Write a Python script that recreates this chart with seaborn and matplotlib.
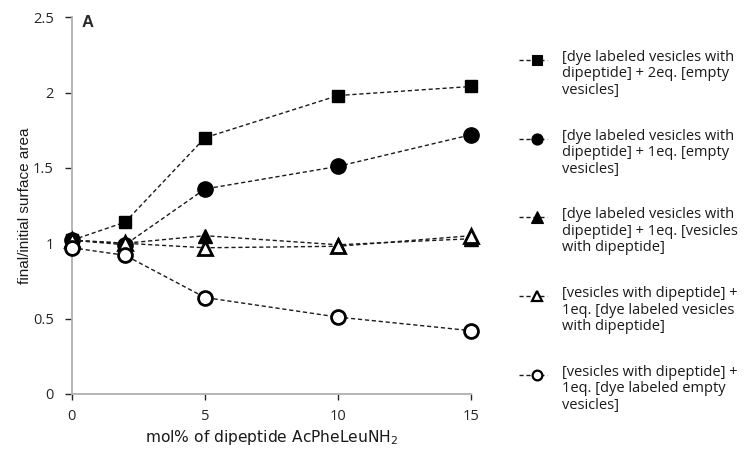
import matplotlib
matplotlib.use("Agg")
import matplotlib.pyplot as plt
from matplotlib.lines import Line2D
import seaborn as sns
import pandas as pd

# mol% of dipeptide in the vesicles
mol_pct = [0, 2, 5, 10, 15]

# final/initial surface area for each mixing experiment
sq_filled = [1.02, 1.14, 1.70, 1.98, 2.04]
circ_filled = [1.02, 0.99, 1.36, 1.51, 1.72]
tri_filled = [1.02, 1.00, 1.05, 0.99, 1.03]
tri_open = [1.02, 1.00, 0.97, 0.98, 1.05]
circ_open = [0.97, 0.92, 0.64, 0.51, 0.42]

labels = [
    "[dye labeled vesicles with\ndipeptide] + 2eq. [empty\nvesicles]",
    "[dye labeled vesicles with\ndipeptide] + 1eq. [empty\nvesicles]",
    "[dye labeled vesicles with\ndipeptide] + 1eq. [vesicles\nwith dipeptide]",
    "[vesicles with dipeptide] +\n1eq. [dye labeled vesicles\nwith dipeptide]",
    "[vesicles with dipeptide] +\n1eq. [dye labeled empty\nvesicles]",
]

series = [sq_filled, circ_filled, tri_filled, tri_open, circ_open]
styles = [
    dict(marker="s", ms=9, mfc="black", mew=1.0, lms=7.0),
    dict(marker="o", ms=11, mfc="black", mew=1.0, lms=8.0),
    dict(marker="^", ms=10.5, mfc="black", mew=1.0, lms=8.0),
    dict(marker="^", ms=9.5, mfc="white", mew=2.0, lms=7.0),
    dict(marker="o", ms=10, mfc="white", mew=2.0, lms=7.0),
]

sns.set_style("white")
plt.rcParams["font.family"] = ["Open Sans", "DejaVu Sans"]

fig = plt.figure(figsize=(7.49, 4.51), dpi=100)
ax = fig.add_axes([0.096, 0.1264, 0.533, 0.8356])

for vals, st in zip(series, styles):
    df = pd.DataFrame({"x": mol_pct, "y": vals})
    sns.lineplot(data=df, x="x", y="y", ax=ax, color="#1a1a1a",
                 linestyle=(0, (3, 2)), linewidth=1.0,
                 marker=st["marker"], markersize=st["ms"],
                 markerfacecolor=st["mfc"], markeredgecolor="black",
                 markeredgewidth=st["mew"], clip_on=False, zorder=3)

ax.set_xlim(0, 15)
ax.set_ylim(0, 2.5)
ax.set_xticks([0, 5, 10, 15])
ax.set_yticks([0, 0.5, 1, 1.5, 2, 2.5])
ax.set_yticklabels(["0", "0.5", "1", "1.5", "2", "2.5"])
ax.tick_params(axis="both", labelsize=10.5, colors="#262626", length=5,
               width=1, direction="out", left=True, bottom=True)
ax.tick_params(axis="y", pad=8)
ax.tick_params(axis="x", pad=7, length=4)
for t in ax.get_xticklines() + ax.get_yticklines():
    t.set_color("#b0b0b0")

for s in ["top", "right"]:
    ax.spines[s].set_visible(False)
for s in ["left", "bottom"]:
    ax.spines[s].set_color("#b0b0b0")
    ax.spines[s].set_linewidth(1.3)

ax.set_xlabel("mol% of dipeptide AcPheLeuNH$_2$", family="DejaVu Sans",
              fontsize=11.2, labelpad=3, color="#1a1a1a")
ax.set_ylabel("final/initial surface area", family="Liberation Sans",
              fontsize=11, labelpad=1, color="#1a1a1a")
ax.text(0.023, 1.005, "A", transform=ax.transAxes, family="Liberation Sans",
        fontweight="bold", fontsize=12, va="top", ha="left")

# legend keys drawn in figure coordinates, each aligned with the first text line
W, H = 749, 451
for i, (lab, st) in enumerate(zip(labels, styles)):
    yp = 60 + i * 78.7
    yf = 1 - yp / H
    fig.add_artist(Line2D([519 / W, 547 / W], [yf, yf], transform=fig.transFigure,
                          color="#1a1a1a", linestyle=(0, (3, 2)), linewidth=1.0))
    fig.add_artist(Line2D([536.5 / W], [yf], transform=fig.transFigure,
                          marker=st["marker"], markersize=st["lms"],
                          markerfacecolor=st["mfc"], markeredgecolor="black",
                          markeredgewidth=st["mew"] * 0.8, linestyle="none"))
    fig.text(562 / W, yf + 10 / H, lab, fontsize=10.5, va="top", ha="left",
             color="#1a1a1a", linespacing=1.13)

fig.savefig("out.png", dpi=100)
